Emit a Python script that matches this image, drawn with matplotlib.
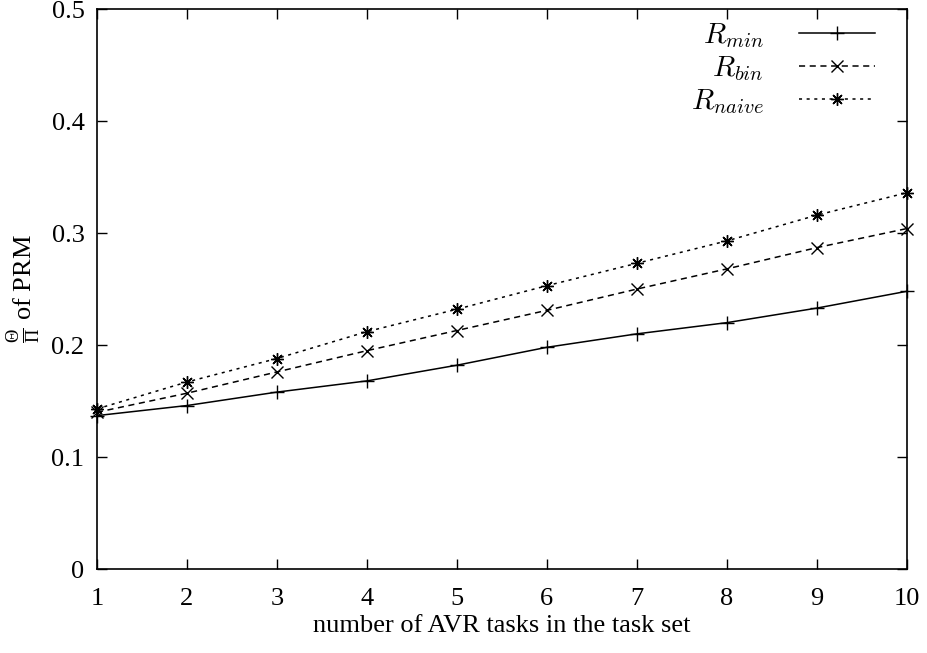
import matplotlib
matplotlib.use("Agg")
import matplotlib.pyplot as plt

plt.rcParams['font.family'] = ['Liberation Serif', 'DejaVu Serif']
plt.rcParams['mathtext.fontset'] = 'custom'
plt.rcParams['mathtext.rm'] = 'Liberation Serif'
plt.rcParams['mathtext.it'] = 'Liberation Serif:italic'

# data
tasks = [1, 2, 3, 4, 5, 6, 7, 8, 9, 10]
r_min = [0.137, 0.146, 0.158, 0.168, 0.182, 0.198, 0.210, 0.220, 0.233, 0.248]
r_bin = [0.140, 0.157, 0.176, 0.195, 0.213, 0.231, 0.250, 0.268, 0.287, 0.304]
r_naive = [0.143, 0.167, 0.188, 0.212, 0.232, 0.253, 0.273, 0.293, 0.316, 0.336]

fig = plt.figure(figsize=(9.28, 6.53), dpi=100)
ax = fig.add_axes([0.1045, 0.1286, 0.8725, 0.8574])

ax.plot(tasks, r_min, color='black', lw=1.1, ls='-', marker='+', ms=10, mew=1.0,
        label='$R_{min}$', clip_on=False)
ax.plot(tasks, r_bin, color='black', lw=1.1, ls=(0, (4, 3)), marker='x', ms=8, mew=1.0,
        label='$R_{bin}$', clip_on=False)
ax.plot(tasks, r_naive, color='black', lw=1.1, ls=(0, (2, 3)), marker=(8, 2, 0), ms=9, mew=1.0,
        label='$R_{naive}$', clip_on=False)

ax.set_xlim(1, 10)
ax.set_ylim(0, 0.5)
ax.set_xticks(tasks)
ax.set_yticks([0, 0.1, 0.2, 0.3, 0.4, 0.5])
ax.set_yticklabels(['0', '0.1', '0.2', '0.3', '0.4', '0.5'])
ax.tick_params(direction='in', length=7, width=1, top=True, right=True,
               labelsize=19, pad=9)
ax.tick_params(axis='x', pad=14)
for s in ax.spines.values():
    s.set_linewidth(1.2)

ax.set_xlabel('number of AVR tasks in the task set', fontsize=19, labelpad=3)
ax.set_ylabel(r'$\frac{\Theta}{\Pi}$ of PRM', fontsize=19, labelpad=6)

leg = ax.legend(loc='upper right', frameon=False, markerfirst=False, fontsize=21,
                handlelength=2.6, handletextpad=1.2, labelspacing=0.15,
                borderaxespad=0.0, bbox_to_anchor=(0.975, 1.0))
for t in leg.get_texts():
    t.set_math_fontfamily('cm')

fig.savefig('out.png', dpi=100)
